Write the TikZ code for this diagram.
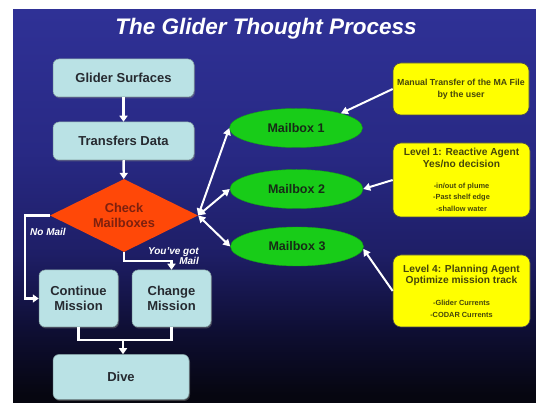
\documentclass[tikz,border=0pt]{standalone}
\usepackage{fontspec}
\setmainfont{Liberation Sans}
\usetikzlibrary{shapes.geometric,arrows.meta,shadows}

\definecolor{bgA}{RGB}{6,6,16}
\definecolor{bgB}{RGB}{14,14,50}
\definecolor{bgC}{RGB}{30,30,102}
\definecolor{bgD}{RGB}{40,41,132}
\definecolor{bgE}{RGB}{47,49,150}
\definecolor{boxcyan}{RGB}{186,226,229}
\definecolor{boxtext}{RGB}{38,42,48}
\definecolor{mailgreen}{RGB}{24,204,24}
\definecolor{mailtext}{RGB}{22,44,22}
\definecolor{checkred}{RGB}{255,72,8}
\definecolor{checktext}{RGB}{125,32,14}
\definecolor{noteyellow}{RGB}{255,255,0}
\definecolor{notetext}{RGB}{70,70,10}

% slide background: blue at the top fading to near black at the bottom
\pgfdeclareverticalshading{slidebg}{100bp}{color(0bp)=(bgA); color(26bp)=(bgA); color(34bp)=(bgB); color(44bp)=(bgC); color(57bp)=(bgD); color(75bp)=(bgE); color(100bp)=(bgE)}

\tikzset{
  procbox/.style={rectangle, rounded corners=6pt, fill=boxcyan, draw=boxcyan!70!black, line width=0.5pt,
    text=boxtext, font=\fontsize{13}{15.5}\selectfont\bfseries, align=center, inner sep=2pt,
    drop shadow={opacity=0.45, shadow xshift=1pt, shadow yshift=-1.5pt}},
  mailbox/.style={ellipse, fill=mailgreen, draw=mailgreen!80!black, line width=0.4pt, text=mailtext,
    font=\fontsize{12.5}{15}\selectfont\bfseries, inner sep=1pt, minimum width=133pt, minimum height=39pt},
  checkbox/.style={diamond, aspect=2, fill=checkred, text=checktext, inner sep=1pt,
    font=\fontsize{12.8}{15}\selectfont\bfseries, align=center, minimum width=148pt, minimum height=73pt},
  notebox/.style={rectangle, rounded corners=8pt, fill=noteyellow, draw=black!70, line width=0.6pt,
    text=notetext, align=flush center, inner sep=2pt, text width=132pt},
  flowlbl/.style={text=white, font=\fontsize{10}{10.5}\selectfont\bfseries\itshape, inner sep=0pt},
  flow/.style={draw=white, line width=2.4pt, -{Triangle[length=6pt,width=8pt]}},
  link/.style={draw=white, line width=2.2pt},
  duplex/.style={draw=white, line width=2pt, {Triangle[length=7pt,width=7.5pt]}-{Triangle[length=7pt,width=7.5pt]}},
  pointer/.style={draw=white, line width=2pt, -{Triangle[length=7pt,width=7.5pt]}}
}

\begin{document}
\begin{tikzpicture}[x=1pt,y=-1pt]
\useasboundingbox (0,0) rectangle (536,403);
\fill[white] (0,0) rectangle (536,403);
\shade[shading=slidebg] (13,10) rectangle (536,403);

% title
\node[text=white, font=\fontsize{22.5}{26}\selectfont\bfseries\itshape, anchor=base, inner sep=0pt]
  (title) at (266,35) {The Glider Thought Process};

% glider process chain
\node[procbox, minimum width=141pt, minimum height=38pt] (surf) at (123.5,78) {Glider Surfaces};
\node[procbox, minimum width=141pt, minimum height=38pt] (xfer) at (123.5,141) {Transfers Data};
\node[checkbox] (check) at (124,215.5) {Check\\Mailboxes};
\node[procbox, minimum width=79pt, minimum height=57pt] (cont) at (78.5,298.5) {Continue\\Mission};
\node[procbox, minimum width=79pt, minimum height=57pt] (chg) at (171.5,298.5) {Change\\Mission};
\node[procbox, minimum width=136pt, minimum height=45pt] (dive) at (121,377) {Dive};

% mailboxes
\node[mailbox] (mb1) at (296,128) {Mailbox 1};
\node[mailbox] (mb2) at (296.5,189) {Mailbox 2};
\node[mailbox] (mb3) at (297,246.5) {Mailbox 3};

% agent notes
\node[notebox, minimum width=136pt, minimum height=52pt] (n1) at (461,89)
  {\fontsize{8.8}{9.5}\selectfont\bfseries Manual Transfer of the MA File\\by the user};
\node[notebox, minimum width=137pt, minimum height=74pt] (n2) at (461.5,180)
  {\fontsize{10.2}{11.5}\selectfont\bfseries Level 1: Reactive Agent\\Yes/no decision\par
   \vspace{11pt}\fontsize{7.4}{10.8}\selectfont -in/out of plume\\-Past shelf edge\\-shallow water};
\node[notebox, minimum width=137pt, minimum height=72pt] (n3) at (461.5,291)
  {\fontsize{10.2}{11.5}\selectfont\bfseries Level 4: Planning Agent\\Optimize mission track\par
   \vspace{11pt}\fontsize{7.4}{10.8}\selectfont -Glider Currents\\-CODAR Currents};

% branch labels
\node[flowlbl, anchor=west] (nomail) at (30,232) {No Mail};
\node[flowlbl, align=right, anchor=north east] (gotmail) at (199,247) {You've got\\Mail};

% connectors
\draw[flow] (surf) -- (xfer);
\draw[flow] (xfer) -- (check);
\coordinate (nmA) at (25,215.5);
\draw[flow] (check.west) -- (nmA) |- (cont.west);
\coordinate (gmA) at (124,261);
\draw[flow] (check.south) -- (gmA) -| (chg.north);
\coordinate (jn) at (123,340);
\draw[link] (cont.south) |- (jn) -| (chg.south);
\draw[flow] (jn) -- (jn |- dive.north);

\draw[duplex] (check.east) -- (mb1.west);
\draw[duplex] (check.east) -- (mb2.west);
\draw[duplex] (check.east) -- (mb3.west);

\draw[pointer] (n1.west) -- (mb1.18);
\draw[pointer] (n2.west) -- (mb2.east);
\draw[pointer] (n3.west) -- (mb3.-2);
\end{tikzpicture}
\end{document}
